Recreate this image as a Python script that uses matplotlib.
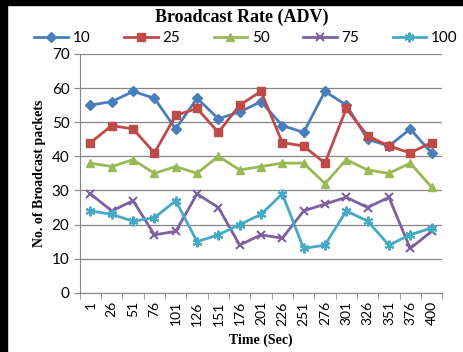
import matplotlib.pyplot as plt
from matplotlib.patches import Rectangle

times = ['1', '26', '51', '76', '101', '126', '151', '176', '201', '226',
         '251', '276', '301', '326', '351', '376', '400']
s10 = [55, 56, 59, 57, 48, 57, 51, 53, 56, 49, 47, 59, 55, 45, 43, 48, 41]
s25 = [44, 49, 48, 41, 52, 54, 47, 55, 59, 44, 43, 38, 54, 46, 43, 41, 44]
s50 = [38, 37, 39, 35, 37, 35, 40, 36, 37, 38, 38, 32, 39, 36, 35, 38, 31]
s75 = [29, 24, 27, 17, 18, 29, 25, 14, 17, 16, 24, 26, 28, 25, 28, 13, 18]
s100 = [24, 23, 21, 22, 27, 15, 17, 20, 23, 29, 13, 14, 24, 21, 14, 17, 19]

series = [('10', s10, '#4A7EBB', 'D', 5),
          ('25', s25, '#BE4B48', 's', 6),
          ('50', s50, '#98B954', '^', 6),
          ('75', s75, '#7D60A0', 'x', 6),
          ('100', s100, '#46AAC5', (6, 2, 0), 7)]

fig = plt.figure(figsize=(4.64, 3.52), dpi=100)
ax = fig.add_axes([0.172, 0.168, 0.781, 0.679])

x = list(range(len(times)))
for name, vals, col, mk, ms in series:
    ax.plot(x, vals, color=col, marker=mk, markersize=ms, linewidth=2,
            markeredgewidth=1.5 if mk in ('x', (6, 2, 0)) else 1,
            markeredgecolor=col, label=name)

ax.set_xlim(-0.5, len(times) - 0.5)
ax.set_ylim(0, 70)
ax.set_yticks(range(0, 71, 10))
ax.set_xticks(x)
ax.set_xticklabels(times, rotation=90, fontsize=10, family='Lato')
ax.set_xticks([i - 0.5 for i in range(len(times) + 1)], minor=True)
ax.tick_params(axis='x', which='major', length=0, pad=6)
ax.tick_params(axis='x', which='minor', length=4, color='#868686')
ax.tick_params(axis='y', length=4, color='#868686', labelsize=11)
for lab in ax.get_yticklabels():
    lab.set_family('Lato')
ax.grid(axis='y', color='#868686', linewidth=0.9)
ax.set_axisbelow(True)
for side in ['top', 'right']:
    ax.spines[side].set_visible(False)
ax.spines['left'].set_color('#868686')
ax.spines['bottom'].set_color('#868686')

ax.set_xlabel('Time (Sec)', family='Liberation Serif', fontweight='bold',
              fontsize=10, labelpad=6)
ax.set_ylabel('No. of Broadcast packets', family='Liberation Serif',
              fontweight='bold', fontsize=10, labelpad=4)

fig.text(0.52, 0.952, 'Broadcast Rate (ADV)', ha='center', va='center',
         family='Liberation Serif', fontweight='bold', fontsize=13)
fig.legend(loc='center', bbox_to_anchor=(0.53, 0.892), ncol=5, frameon=False,
           prop={'family': 'Lato', 'size': 11}, handlelength=2.2,
           columnspacing=2.2, handletextpad=0.3)

# black frame edges of the scanned picture
fig.patches.append(Rectangle((0, 0), 7 / 464, 1, transform=fig.transFigure,
                             color='black', zorder=10))
fig.patches.append(Rectangle((0, 1 - 5 / 352), 1, 5 / 352, transform=fig.transFigure,
                             color='black', zorder=10))

fig.savefig('out.png', dpi=100)
